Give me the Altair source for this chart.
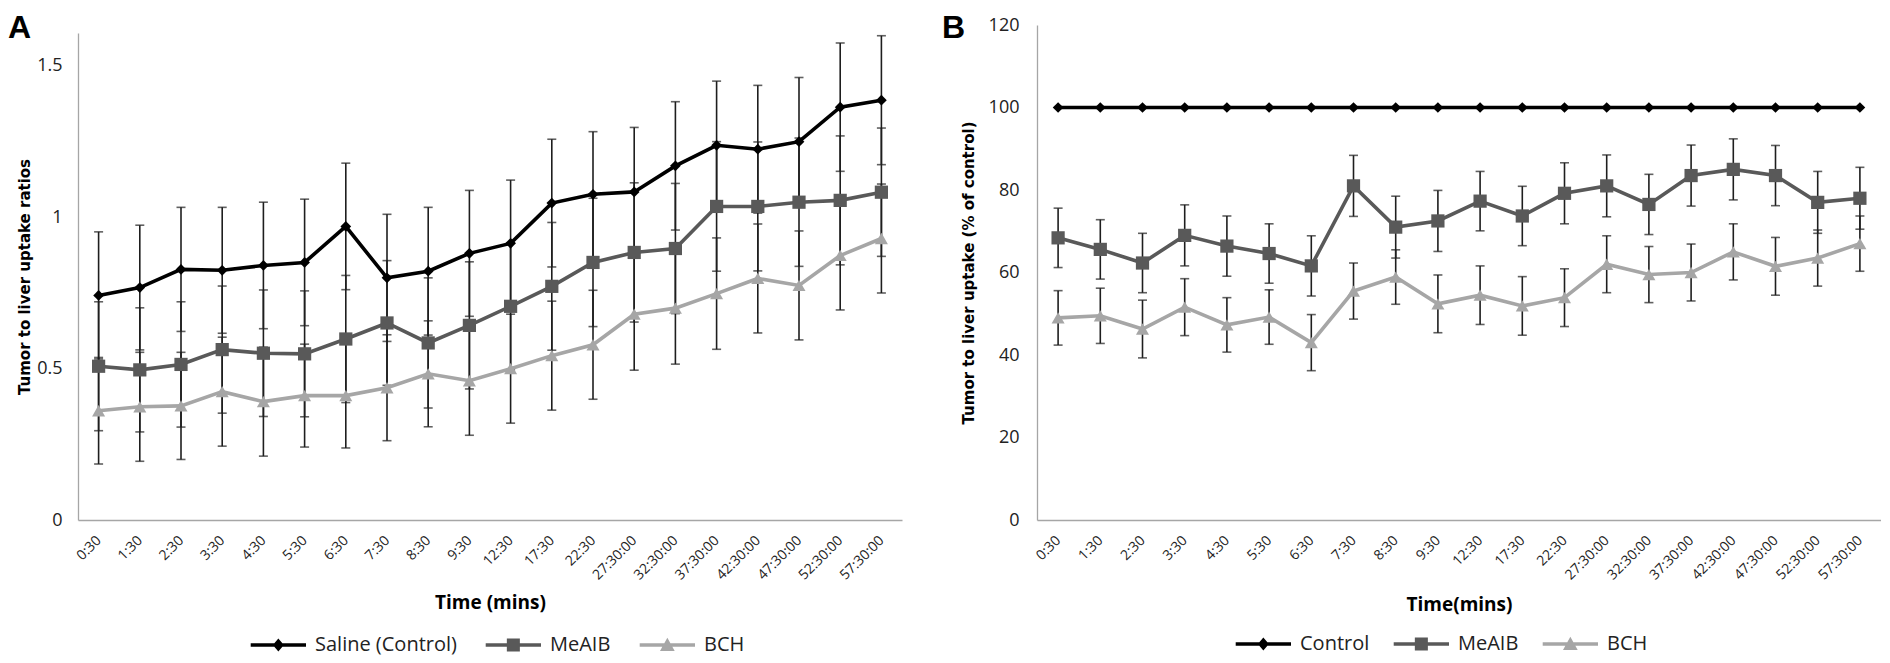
import altair as alt
import pandas as pd

times = ["0:30", "1:30", "2:30", "3:30", "4:30", "5:30", "6:30", "7:30", "8:30", "9:30",
         "12:30", "17:30", "22:30", "27:30:00", "32:30:00", "37:30:00", "42:30:00",
         "47:30:00", "52:30:00", "57:30:00"]

# ---- Panel A: tumor to liver uptake ratios ----
a_series = ["Saline (Control)", "MeAIB", "BCH"]
a_saline = [0.742, 0.768, 0.828, 0.825, 0.841, 0.851, 0.970, 0.800, 0.822, 0.881,
            0.914, 1.047, 1.076, 1.084, 1.170, 1.238, 1.225, 1.250, 1.364, 1.387]
a_saline_err = [0.210, 0.206, 0.205, 0.208, 0.209, 0.209, 0.209, 0.210, 0.211, 0.208,
                0.209, 0.211, 0.207, 0.213, 0.212, 0.212, 0.211, 0.212, 0.212, 0.213]
a_meaib = [0.508, 0.496, 0.514, 0.563, 0.551, 0.549, 0.598, 0.651, 0.585, 0.643,
           0.706, 0.772, 0.851, 0.884, 0.897, 1.036, 1.036, 1.050, 1.056, 1.083]
a_meaib_err = [0.213, 0.205, 0.207, 0.210, 0.209, 0.208, 0.210, 0.206, 0.215, 0.210,
               0.210, 0.211, 0.212, 0.230, 0.215, 0.214, 0.213, 0.212, 0.213, 0.212]
a_bch = [0.361, 0.374, 0.377, 0.424, 0.391, 0.411, 0.411, 0.437, 0.483, 0.460,
         0.500, 0.543, 0.579, 0.680, 0.700, 0.748, 0.798, 0.775, 0.874, 0.930]
a_bch_err = [0.176, 0.180, 0.177, 0.180, 0.180, 0.170, 0.173, 0.175, 0.175, 0.180,
             0.180, 0.180, 0.180, 0.185, 0.185, 0.184, 0.180, 0.180, 0.180, 0.180]

# ---- Panel B: % of control ----
b_series = ["Control", "MeAIB", "BCH"]
b_control = [100, 100, 100, 100, 100, 100, 100, 100, 100, 100,
             100, 100, 100, 100, 100, 100, 100, 100, 100, 100]
b_meaib = [68.4, 65.6, 62.3, 69.0, 66.4, 64.6, 61.6, 81.0, 71.0, 72.5,
           77.3, 73.7, 79.2, 81.0, 76.5, 83.5, 85.0, 83.5, 77.0, 78.0]
b_meaib_err = [7.2, 7.2, 7.2, 7.4, 7.3, 7.2, 7.3, 7.4, 7.5, 7.4,
               7.2, 7.2, 7.4, 7.5, 7.3, 7.4, 7.4, 7.3, 7.5, 7.5]
b_bch = [49.0, 49.5, 46.3, 51.6, 47.3, 49.2, 43.0, 55.5, 58.9, 52.4,
         54.5, 51.9, 53.9, 62.0, 59.5, 60.0, 65.0, 61.5, 63.5, 67.0]
b_bch_err = [6.6, 6.7, 7.0, 6.9, 6.6, 6.6, 6.8, 6.8, 6.6, 7.0,
             7.1, 7.1, 7.0, 6.9, 6.8, 6.9, 6.8, 7.0, 6.8, 6.7]

colors = ["#000000", "#595959", "#a6a6a6"]
marker_shapes = ["diamond", "square", "triangle-up"]
marker_sizes = [115, 175, 170]
err_color = "#1e1e1e"
FONT = "Open Sans"
YTITLE_FONT = "DejaVu Sans"

# legend symbols: a line segment with the series marker on it (unit = 7 px)
legend_paths = [
    "M-6.9,-0.25L1,-0.25L1,0.25L-6.9,0.25Z M-2.95,-0.93L-2.16,0L-2.95,0.93L-3.74,0Z",
    "M-6.9,-0.25L1,-0.25L1,0.25L-6.9,0.25Z M-3.88,-0.93L-2.02,-0.93L-2.02,0.93L-3.88,0.93Z",
    "M-6.9,-0.25L1,-0.25L1,0.25L-6.9,0.25Z M-2.95,-1.05L-1.9,0.85L-4.0,0.85Z",
]


def make_df(series, values, errs):
    rows = []
    for name, vals, es in zip(series, values, errs):
        for i, t in enumerate(times):
            v = vals[i]
            e = es[i] if es is not None else 0.0
            rows.append({"time": t, "series": name, "value": v, "lo": v - e, "hi": v + e})
    return pd.DataFrame(rows)


def panel(df, series, err_flags, width, height, ydomain, yrange, yvalues, yformat, ytitle,
          ylabelpad, ytitlepad, xtitle, xtitleY, label, label_dx,
          legendX, legendY, colpad):
    xenc = alt.X("time:N", sort=times,
                 scale=alt.Scale(type="point", domain=times, padding=0.5),
                 axis=alt.Axis(title=xtitle, labelAngle=-45, labelAlign="right",
                               labelBaseline="middle", labelFontSize=14, labelFont=FONT,
                               labelColor="#222222", labelPadding=18, ticks=False,
                               domainColor="#a6a6a6", domainWidth=1.3, grid=False,
                               titleFont=FONT, titleFontSize=19, titleFontWeight="bold",
                               titleColor="#000000", titleY=xtitleY,
                               titleBaseline="alphabetic"))
    sc_kwargs = dict(domain=ydomain, nice=False, zero=True)
    if yrange is not None:
        sc_kwargs["range"] = yrange
    ysc = alt.Scale(**sc_kwargs)
    yax = alt.Axis(values=yvalues, format=yformat, ticks=False, grid=False,
                   domainColor="#a6a6a6", domainWidth=1.3, labelFont=FONT,
                   labelFontSize=18, labelColor="#222222", labelPadding=ylabelpad,
                   titleFont=YTITLE_FONT, titleFontSize=15, titleFontWeight="bold",
                   titleColor="#000000", titlePadding=ytitlepad)

    def Y(f):
        return alt.Y(f"{f}:Q", scale=ysc, axis=yax, title=ytitle)

    base = alt.Chart(df)
    layers = []
    # error bars
    for name, has_err in zip(series, err_flags):
        if not has_err:
            continue
        sub = base.transform_filter(alt.datum.series == name)
        layers.append(sub.mark_rule(color=err_color, strokeWidth=1.6).encode(
            x=xenc, y=Y("lo"), y2="hi:Q"))
        layers.append(sub.mark_tick(color=err_color, thickness=1.6, size=9).encode(
            x=xenc, y=Y("lo")))
        layers.append(sub.mark_tick(color=err_color, thickness=1.6, size=9).encode(
            x=xenc, y=Y("hi")))
    # lines and markers
    for name, col, shp, sz in zip(series, colors, marker_shapes, marker_sizes):
        sub = base.transform_filter(alt.datum.series == name)
        layers.append(sub.mark_line(color=col, strokeWidth=3.6).encode(
            x=xenc, y=Y("value")))
        layers.append(sub.mark_point(filled=True, color=col, shape=shp, size=sz,
                                     opacity=1, strokeWidth=0).encode(
            x=xenc, y=Y("value")))
    # legend (line + marker symbols)
    leg = alt.Legend(orient="none", legendX=legendX, legendY=legendY,
                     direction="horizontal", title=None, symbolSize=196,
                     symbolStrokeWidth=0, labelFont=FONT, labelFontSize=20,
                     labelColor="#222222", labelOffset=6, columnPadding=colpad,
                     padding=0, labelLimit=400)
    layers.append(base.transform_filter("false").mark_point(
        filled=True, opacity=1, strokeWidth=0).encode(
        x=xenc, y=Y("value"),
        color=alt.Color("series:N", scale=alt.Scale(domain=series, range=colors), legend=leg),
        shape=alt.Shape("series:N", scale=alt.Scale(domain=series, range=legend_paths), legend=leg),
    ))
    # panel letter
    lab = alt.Chart(pd.DataFrame({"label": [label]})).mark_text(
        align="left", baseline="top", fontSize=32, fontWeight="bold",
        font="Liberation Sans", color="#000000").encode(
        x=alt.value(label_dx), y=alt.value(-12), text="label:N")
    layers.append(lab)
    return alt.layer(*layers).properties(width=width, height=height)


dfA = make_df(a_series, [a_saline, a_meaib, a_bch], [a_saline_err, a_meaib_err, a_bch_err])
dfB = make_df(b_series, [b_control, b_meaib, b_bch], [None, b_meaib_err, b_bch_err])

chartA = panel(dfA, a_series, [True, True, True], 824, 495, [0, 1.609], [495, 8],
               [0, 0.5, 1, 1.5], "~g", "Tumor to liver  uptake ratios", 16, 4,
               "Time (mins)", 88, "A", -70, 211, 610, 28)
chartB = panel(dfB, b_series, [False, True, True], 844, 495, [0, 120], None,
               [0, 20, 40, 60, 80, 100, 120], "d", "Tumor to liver uptake  (% of control)", 18, 12,
               "Time(mins)", 90, "B", -95, 237, 609, 23)

chart = alt.hconcat(chartA, chartB, spacing=40).resolve_scale(
    x="independent", y="independent", color="independent", shape="independent"
).resolve_legend(color="independent", shape="independent").properties(
    padding={"top": 4, "bottom": 1, "left": 0, "right": 0}, background="white"
).configure_view(stroke=None)

chart.save("out.html", embed_options={"renderer": "svg", "actions": False})
